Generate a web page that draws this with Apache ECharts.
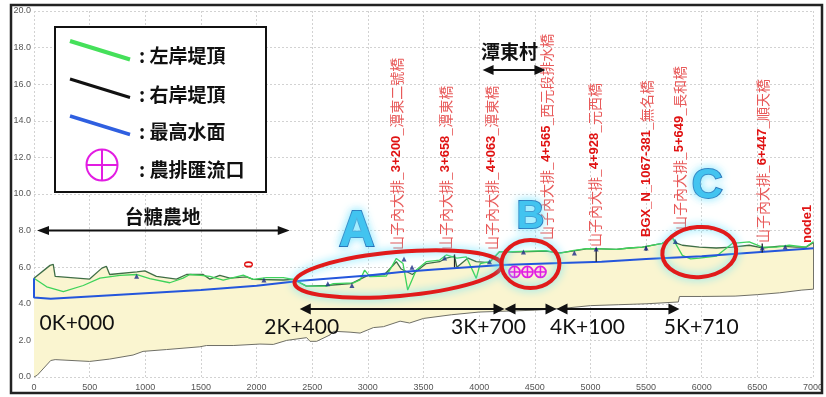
<!DOCTYPE html>
<html>
<head>
<meta charset="utf-8">
<script src="https://cdn.jsdelivr.net/npm/echarts@6/dist/echarts.min.js"></script>
<style>
html, body { margin: 0; padding: 0; background: #fff; }
#chart { width: 826px; height: 397px; }
</style>
</head>
<body>
<div id="chart"></div>
<script>
// 里程 (m) / 高程 (m)
const leftBankX = [0, 114, 264, 443, 592, 772, 925, 1040, 1220, 1340, 1400, 1500, 1580, 1700, 1790, 1880, 1970, 2089, 2240, 2330, 2448, 2627, 2690, 2870, 2930, 2971, 3018, 3166, 3256, 3316, 3358, 3435, 3525, 3645, 3705, 3800, 3884, 3974, 4010, 4093, 4183, 4300, 4450, 4600, 4722, 4838, 4964, 5100, 5233, 5350, 5467, 5646, 5736, 5826, 5900, 5979, 6131, 6275, 6427, 6544, 6670, 6786, 6937, 7005];
const leftBankY = [5.4, 4.93, 4.66, 5.0, 5.4, 5.55, 5.6, 5.37, 5.15, 5.4, 5.6, 5.55, 5.5, 5.3, 5.43, 5.57, 5.34, 5.43, 5.43, 5.34, 4.97, 4.97, 5.1, 5.14, 5.3, 5.84, 5.48, 5.52, 6.48, 6.2, 4.75, 5.85, 6.3, 6.39, 6.67, 6.5, 6.57, 5.39, 6.2, 6.3, 6.85, 6.85, 6.88, 6.9, 6.75, 6.9, 7.02, 7.0, 6.97, 7.05, 7.1, 7.3, 7.6, 6.65, 6.45, 6.5, 6.6, 7.3, 7.38, 7.1, 7.1, 7.2, 7.1, 7.4];

const rightBankX = [0, 144, 173, 190, 500, 610, 650, 680, 925, 996, 1100, 1280, 1370, 1520, 1580, 1670, 1760, 1909, 1970, 2240, 2330, 2448, 2627, 2850, 3000, 3150, 3256, 3300, 3400, 3525, 3645, 3705, 3779, 3800, 3900, 3974, 4093, 4183, 4300, 4450, 4600, 4722, 4838, 4964, 5100, 5233, 5350, 5467, 5646, 5736, 5780, 5826, 5979, 6131, 6275, 6427, 6544, 6700, 6850, 6937, 7005];
const rightBankY = [5.4, 6.1, 6.15, 5.5, 5.35, 5.95, 6.05, 5.6, 5.75, 5.8, 5.5, 5.35, 5.6, 5.6, 5.35, 5.55, 5.4, 5.47, 5.34, 5.3, 5.34, 4.97, 5.0, 5.1, 5.55, 5.6, 6.3, 5.9, 5.6, 6.2, 6.3, 6.5, 6.6, 6.0, 6.5, 6.3, 6.25, 6.85, 6.82, 6.85, 6.88, 6.78, 6.88, 7.0, 7.0, 6.97, 7.05, 7.1, 7.3, 7.6, 7.3, 7.2, 7.1, 7.05, 7.1, 7.2, 7.05, 7.15, 7.1, 7.1, 7.35];

const waterX = [0, 0, 150, 500, 1000, 1500, 2000, 2400, 3000, 3300, 3600, 4200, 4600, 5100, 5500, 6000, 6500, 7005];
const waterY = [5.4, 4.35, 4.28, 4.4, 4.58, 4.75, 4.98, 5.26, 5.55, 5.74, 5.87, 6.12, 6.2, 6.3, 6.45, 6.6, 6.82, 7.03];

const bedX = [0, 30, 150, 190, 500, 680, 890, 980, 1190, 1490, 1550, 1790, 2030, 2150, 2270, 2450, 2480, 2540, 2660, 2690, 2840, 2930, 3050, 3140, 3290, 3375, 3500, 3750, 4000, 4250, 4500, 4750, 5000, 5250, 5500, 5790, 5800, 6000, 6300, 6500, 6700, 6900, 7005, 7005];
const bedY = [0.0, 0.1, 0.9, 0.95, 0.85, 0.98, 1.2, 1.4, 1.5, 1.65, 1.72, 1.72, 1.8, 1.78, 2.0, 2.15, 1.95, 1.95, 2.3, 2.5, 2.45, 2.4, 2.7, 2.75, 3.05, 2.95, 3.2, 3.4, 3.55, 3.6, 3.65, 3.75, 3.9, 3.95, 4.0, 4.1, 4.4, 4.4, 4.42, 4.5, 4.6, 4.75, 4.8, 7.35];

const markerX = [922, 2066, 2640, 2857, 3325, 3397, 3690, 4093, 4398, 4856, 5052, 5500, 5763, 6544, 6750];
const markerY = [5.5, 5.3, 5.1, 5.0, 6.45, 6.0, 6.5, 6.3, 6.83, 6.78, 7.0, 7.05, 7.4, 7.05, 7.1];

const stubX = [3779, 5052, 5500, 6544];
const stubTop = [6.7, 7.05, 7.15, 7.3];
const stubBottom = [6.0, 6.3, 6.9, 6.8];

const outletX = [4318, 4434, 4551];
const outletY = [5.74, 5.74, 5.74];

// 斷面標示 (橋梁)
const stationX = [3258, 3698, 4111, 4605, 5036, 5503, 5799, 6544, 6948, 1940];
const stationY = [6.94, 6.94, 6.94, 7.49, 7.1, 7.65, 8.03, 7.32, 7.32, 5.95];
const stationPre = ['山子內大排_', '山子內大排_', '山子內大排_', '山子內大排_', '山子內大排_', '', '山子內大排_', '山子內大排_', '', ''];
const stationCode = ['3+200', '3+658', '4+063', '4+565', '4+928', 'BGX_N_1067-381', '5+649', '6+447', 'node1', '0'];
const stationName = ['_潭東二號橋', '_潭東橋', '_潭東橋', '_西元段排水橋', '_元西橋', '_無名橋', '_長和橋', '_順天橋', '', ''];

const kmLabels = ['0K+000', '2K+400', '3K+700', '4K+100', '5K+710'];
const kmLabelX = [386, 2406, 4084, 4973, 5996];
const kmLabelY = [2.95, 2.73, 2.73, 2.73, 2.73];

const dimFrom = [2388, 4228, 4695];
const dimTo = [4228, 4695, 5800];
const dimY = 3.72;

const zip = (xs, ys) => xs.map((x, i) => [x, ys[i]]);

const CJK = '"Noto Sans CJK TC", "Noto Sans CJK SC", sans-serif';
const chart = echarts.init(document.getElementById('chart'));

chart.setOption({
  animation: false,
  backgroundColor: '#fff',
  grid: { left: 34, right: 12, top: 11, bottom: 20 },
  xAxis: {
    type: 'value', min: 0, max: 7000, interval: 500,
    axisLine: { show: false }, axisTick: { show: false },
    axisLabel: { color: '#555', fontSize: 9, margin: 6, fontFamily: 'Liberation Sans', formatter: v => String(v) },
    splitLine: { lineStyle: { color: '#d2d2d2', type: [2, 2] } }
  },
  yAxis: {
    type: 'value', min: 0, max: 20, interval: 2,
    axisLine: { show: false }, axisTick: { show: false },
    axisLabel: { color: '#555', fontSize: 9, margin: 3, fontFamily: 'Liberation Sans', formatter: v => v.toFixed(1) },
    splitLine: { lineStyle: { color: '#d2d2d2', type: [2, 2] } }
  },
  series: [
    {
      type: 'custom', name: '河道', silent: true, z: 1,
      data: [[0, 0]],
      renderItem: (params, api) => {
        const top = rightBankX.map((x, i) => api.coord([x, rightBankY[i]]));
        const bot = bedX.map((x, i) => api.coord([x, bedY[i]])).reverse();
        return { type: 'polygon', shape: { points: top.concat(bot) }, style: { fill: '#faf5d0' } };
      }
    },
    { type: 'line', name: '河床', data: zip(bedX, bedY), symbol: 'none', z: 2,
      lineStyle: { color: '#6f6f66', width: 1 } },
    { type: 'line', name: '右岸堤頂', data: zip(rightBankX, rightBankY), symbol: 'none', z: 3,
      lineStyle: { color: '#3f6e46', width: 1.3 } },
    { type: 'line', name: '左岸堤頂', data: zip(leftBankX, leftBankY), symbol: 'none', z: 4,
      lineStyle: { color: '#3ed35a', width: 1.3 } },
    { type: 'line', name: '最高水面', data: zip(waterX, waterY), symbol: 'none', z: 5,
      lineStyle: { color: '#2456dc', width: 2 } },
    {
      type: 'custom', name: '橋墩', z: 6, encode: { x: 0, y: [1, 2] },
      data: stubX.map((x, i) => [x, stubTop[i], stubBottom[i]]),
      renderItem: (params, api) => {
        const a = api.coord([api.value(0), api.value(1)]);
        const b = api.coord([api.value(0), api.value(2)]);
        return { type: 'line', shape: { x1: a[0], y1: a[1], x2: b[0], y2: b[1] }, style: { stroke: '#222', lineWidth: 1.3 } };
      }
    },
    { type: 'scatter', name: '斷面', data: zip(markerX, markerY), symbol: 'triangle', symbolSize: 5, z: 7,
      itemStyle: { color: '#1b2a86' } },
    {
      type: 'custom', name: '農排匯流口', z: 8, encode: { x: 0, y: 1 },
      data: zip(outletX, outletY),
      renderItem: (params, api) => {
        const c = api.coord([api.value(0), api.value(1)]);
        const r = 5.5, col = '#e21de2';
        return { type: 'group', children: [
          { type: 'circle', shape: { cx: c[0], cy: c[1], r: r }, style: { fill: 'rgba(255,160,255,0.35)', stroke: col, lineWidth: 1.8 } },
          { type: 'line', shape: { x1: c[0] - r, y1: c[1], x2: c[0] + r, y2: c[1] }, style: { stroke: col, lineWidth: 1.5 } },
          { type: 'line', shape: { x1: c[0], y1: c[1] - r, x2: c[0], y2: c[1] + r }, style: { stroke: col, lineWidth: 1.5 } }
        ] };
      }
    }
  ]
});

const px = (x, y) => chart.convertToPixel({ gridIndex: 0 }, [x, y]);
const g = [];

function arrow(x1, x2, y, h, w) {
  const a = px(x1, y), b = px(x2, y);
  g.push({ type: 'line', z: 50, shape: { x1: a[0] + h - 2, y1: a[1], x2: b[0] - h + 2, y2: b[1] }, style: { stroke: '#111', lineWidth: 2 } });
  g.push({ type: 'polygon', z: 50, shape: { points: [[a[0], a[1]], [a[0] + h, a[1] - w], [a[0] + h, a[1] + w]] }, style: { fill: '#111' } });
  g.push({ type: 'polygon', z: 50, shape: { points: [[b[0], b[1]], [b[0] - h, b[1] - w], [b[0] - h, b[1] + w]] }, style: { fill: '#111' } });
}

// station labels, rotated
stationX.forEach((x, i) => {
  const p = px(x, stationY[i]);
  g.push({
    type: 'text', x: p[0], y: p[1], rotation: Math.PI / 2, z: 40,
    style: {
      text: '{a|' + stationPre[i] + '}{b|' + stationCode[i] + '}{a|' + stationName[i] + '}',
      align: 'left', verticalAlign: 'middle',
      rich: {
        a: { fill: '#e85a5a', fontSize: 14, fontFamily: CJK },
        b: { fill: '#e01212', fontSize: 13, fontWeight: 'bold', fontFamily: 'Liberation Sans' }
      }
    }
  });
});

// ellipses
const ellipses = [
  { x: 3272, y: 5.63, rx: 104, ry: 22, rot: 0.087 },
  { x: 4461, y: 6.17, rx: 29, ry: 24, rot: 0 },
  { x: 5978, y: 6.83, rx: 37, ry: 25, rot: 0.08 }
];
ellipses.forEach(e => {
  const p = px(e.x, e.y);
  g.push({
    type: 'ellipse', x: p[0], y: p[1], rotation: e.rot, z: 45,
    shape: { cx: 0, cy: 0, rx: e.rx, ry: e.ry },
    style: { fill: 'none', stroke: '#e11b1b', lineWidth: 4, shadowBlur: 9, shadowColor: 'rgba(90,225,255,0.95)' }
  });
});

// big letters
[['A', 2900, 7.92, 50], ['B', 4461, 8.69, 38], ['C', 6050, 10.45, 43]].forEach(t => {
  const p = px(t[1], t[2]);
  g.push({
    type: 'text', x: p[0], y: p[1], z: 46,
    style: {
      text: t[0], font: 'bold ' + t[3] + 'px "Liberation Sans"', fill: '#42c4f0', stroke: '#1558a8', lineWidth: 1.8,
      align: 'center', verticalAlign: 'middle', textShadowBlur: 8, textShadowColor: 'rgba(120,230,255,0.9)'
    }
  });
});

// region labels and arrows
let p = px(1158, 8.74);
g.push({ type: 'text', x: p[0], y: p[1], z: 50, style: { text: '台糖農地', font: 'bold 19px ' + CJK, fill: '#111', align: 'center', verticalAlign: 'middle' } });
arrow(27, 2298, 8.0, 12, 4.5);
p = px(4273, 17.76);
g.push({ type: 'text', x: p[0], y: p[1], z: 50, style: { text: '潭東村', font: 'bold 19px ' + CJK, fill: '#111', align: 'center', verticalAlign: 'middle' } });
arrow(4031, 4596, 16.78, 11, 5);

dimFrom.forEach((x, i) => arrow(x, dimTo[i], dimY, 11, 5.5));
kmLabels.forEach((t, i) => {
  const q = px(kmLabelX[i], kmLabelY[i]);
  g.push({ type: 'text', x: q[0], y: q[1], z: 50, style: { text: t, font: '21px Lato', fill: '#111', align: 'center', verticalAlign: 'middle' } });
});

// legend box
g.push({ type: 'rect', z: 60, shape: { x: 55, y: 27, width: 211, height: 165 }, style: { fill: '#fff', stroke: '#111', lineWidth: 2 } });
[['#45e05a', 41, 4], ['#111', 79, 3], ['#2f5fe0', 116, 3.5]].forEach(l => {
  g.push({ type: 'line', z: 61, shape: { x1: 70, y1: l[1], x2: 130, y2: l[1] + 18.5 }, style: { stroke: l[0], lineWidth: l[2] } });
});
g.push({ type: 'circle', z: 61, shape: { cx: 102, cy: 165, r: 15.5 }, style: { fill: 'none', stroke: '#e21de2', lineWidth: 2 } });
g.push({ type: 'line', z: 61, shape: { x1: 86.5, y1: 165, x2: 117.5, y2: 165 }, style: { stroke: '#e21de2', lineWidth: 2 } });
g.push({ type: 'line', z: 61, shape: { x1: 102, y1: 149.5, x2: 102, y2: 180.5 }, style: { stroke: '#e21de2', lineWidth: 2 } });
[[': 左岸堤頂', 56], [': 右岸堤頂', 95], [': 最高水面', 132], [': 農排匯流口', 170]].forEach(t => {
  g.push({ type: 'text', z: 61, x: 139, y: t[1], style: { text: t[0], font: 'bold 19px ' + CJK, fill: '#111', align: 'left', verticalAlign: 'middle' } });
});

// outer frame
g.push({ type: 'rect', z: 70, shape: { x: 11, y: 5, width: 811, height: 388 }, style: { fill: 'none', stroke: '#222', lineWidth: 2.5 } });

chart.setOption({ graphic: g });
</script>
</body>
</html>
